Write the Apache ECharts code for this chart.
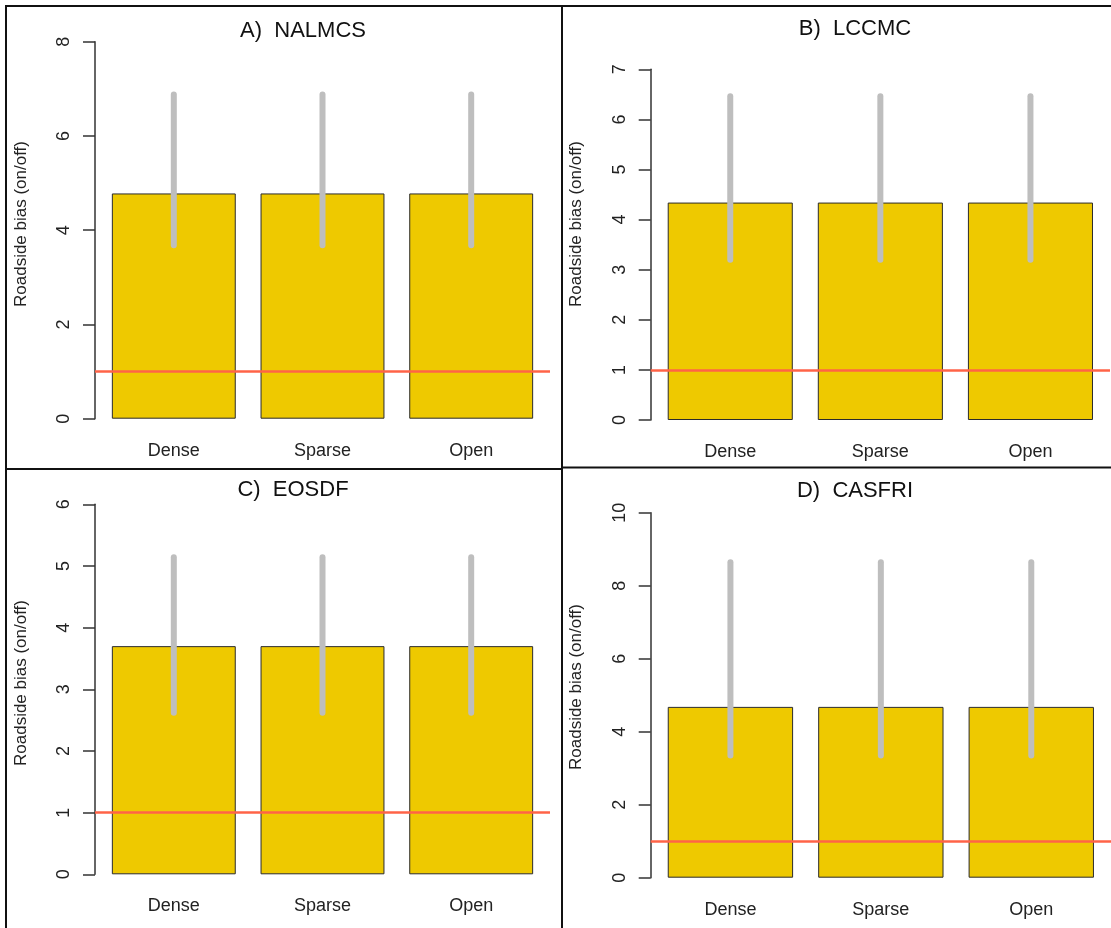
<!DOCTYPE html>
<html>
<head>
<meta charset="utf-8">
<script src="https://cdn.jsdelivr.net/npm/echarts@6/dist/echarts.min.js"></script>
<style>
html,body{margin:0;padding:0;background:#fff;}
#chart{width:1111px;height:928px;}
</style>
</head>
<body>
<div id="chart"></div>
<script>
// ---- data ----
const categories = ['Dense', 'Sparse', 'Open'];
const panelTitles = ['A)  NALMCS', 'B)  LCCMC', 'C)  EOSDF', 'D)  CASFRI'];
const yAxisName = 'Roadside bias (on/off)';

const biasNALMCS = [4.78, 4.78, 4.78];
const lowNALMCS  = [3.68, 3.68, 3.68];
const highNALMCS = [6.88, 6.88, 6.88];

const biasLCCMC = [4.34, 4.34, 4.34];
const lowLCCMC  = [3.20, 3.20, 3.20];
const highLCCMC = [6.46, 6.46, 6.46];

const biasEOSDF = [3.70, 3.70, 3.70];
const lowEOSDF  = [2.62, 2.62, 2.62];
const highEOSDF = [5.14, 5.14, 5.14];

const biasCASFRI = [4.68, 4.68, 4.68];
const lowCASFRI  = [3.35, 3.35, 3.35];
const highCASFRI = [8.64, 8.64, 8.64];

const yMaxTicks  = [8, 7, 6, 10];
const yIntervals = [2, 1, 1, 2];
const referenceLine = 1;

// ---- layout (pixels) ----
const panels = [
  {bias: biasNALMCS, low: lowNALMCS, high: highNALMCS, grid: {left: 95, top: 41.7, width: 455, height: 377},
   title: [303, 31], yname: [21, 224]},
  {bias: biasLCCMC, low: lowLCCMC, high: highLCCMC, grid: {left: 650.7, top: 69.3, width: 459.3, height: 350.7},
   title: [855, 28.5], yname: [576, 224]},
  {bias: biasEOSDF, low: lowEOSDF, high: highEOSDF, grid: {left: 95, top: 504.3, width: 455, height: 370},
   title: [293, 489.5], yname: [21, 683]},
  {bias: biasCASFRI, low: lowCASFRI, high: highCASFRI, grid: {left: 650.7, top: 512.7, width: 460.3, height: 365},
   title: [855, 490.7], yname: [576, 687]}
];

const FONT = '"Liberation Sans", Arial, sans-serif';
const TXT = '#222';
const AX = '#333';
// R barplot geometry: bar width 1, space 0.2 -> in category-index units
const barFrac = 1 / 1.2;
const pad = 0.04 * 3.4 / 1.2;
const xMin = -barFrac / 2 - pad;
const xMax = categories.length - 1 + barFrac / 2 + pad;

const grids = [], xAxes = [], yAxes = [], series = [], graphics = [];

panels.forEach((p, k) => {
  grids.push(Object.assign({containLabel: false}, p.grid));
  xAxes.push({
    type: 'value', gridIndex: k, min: xMin, max: xMax,
    axisLine: {show: false, onZero: false}, axisTick: {show: false}, splitLine: {show: false},
    axisLabel: {
      customValues: categories.map((c, i) => i),
      formatter: v => categories[Math.round(v)],
      fontFamily: FONT, fontSize: 18, color: TXT, margin: 23
    }
  });
  yAxes.push({
    type: 'value', gridIndex: k, min: 0, max: yMaxTicks[k], interval: yIntervals[k],
    splitLine: {show: false},
    axisLine: {show: true, onZero: false, lineStyle: {color: AX, width: 1.5}},
    axisTick: {show: true, length: 12, lineStyle: {color: AX, width: 1.5}},
    axisLabel: {rotate: 90, fontFamily: FONT, fontSize: 18, color: TXT, margin: 22}
  });
  const bw = p.grid.width / (xMax - xMin) * barFrac;
  series.push({
    type: 'bar', xAxisIndex: k, yAxisIndex: k, barWidth: bw, z: 2,
    data: categories.map((c, i) => [i, p.bias[i]]),
    itemStyle: {color: '#EEC900', borderColor: '#2b2b2b', borderWidth: 1},
    emphasis: {disabled: true}, animation: false
  });
  series.push({
    type: 'custom', xAxisIndex: k, yAxisIndex: k, z: 3,
    data: categories.map((c, i) => [i, p.low[i], p.high[i]]),
    encode: {x: 0, y: [1, 2]},
    renderItem: (params, api) => {
      const a = api.coord([api.value(0), api.value(1)]);
      const b = api.coord([api.value(0), api.value(2)]);
      return {type: 'line', shape: {x1: a[0], y1: a[1], x2: b[0], y2: b[1]},
        style: {stroke: '#BEBEBE', lineWidth: 6, lineCap: 'round'}};
    },
    animation: false, silent: true
  });
  series.push({
    type: 'line', xAxisIndex: k, yAxisIndex: k, z: 5, data: [], silent: true, animation: false,
    markLine: {
      silent: true, symbol: ['none', 'none'], animation: false,
      label: {show: false},
      lineStyle: {color: '#FF6347', width: 2.5, type: 'solid'},
      data: [{yAxis: referenceLine}]
    }
  });
  graphics.push({
    type: 'text', x: p.title[0], y: p.title[1],
    style: {text: panelTitles[k], font: '22px ' + FONT, fill: '#111', textAlign: 'center', textVerticalAlign: 'middle'}
  });
  graphics.push({
    type: 'text', x: p.yname[0], y: p.yname[1], rotation: Math.PI / 2,
    style: {text: yAxisName, font: '17px ' + FONT, fill: TXT, textAlign: 'center', textVerticalAlign: 'middle'}
  });
});

// panel frame lines
const frame = {stroke: '#111', lineWidth: 2};
graphics.push({type: 'line', shape: {x1: 6, y1: 5, x2: 6, y2: 928}, style: frame});
graphics.push({type: 'line', shape: {x1: 5, y1: 6, x2: 1111, y2: 6}, style: frame});
graphics.push({type: 'line', shape: {x1: 562, y1: 5, x2: 562, y2: 928}, style: frame});
graphics.push({type: 'line', shape: {x1: 6, y1: 469, x2: 562, y2: 469}, style: frame});
graphics.push({type: 'line', shape: {x1: 562, y1: 467.5, x2: 1111, y2: 467.5}, style: frame});

const chart = echarts.init(document.getElementById('chart'), null, {renderer: 'canvas'});
chart.setOption({
  backgroundColor: '#fff',
  animation: false,
  grid: grids, xAxis: xAxes, yAxis: yAxes, series: series,
  graphic: graphics
});
</script>
</body>
</html>
